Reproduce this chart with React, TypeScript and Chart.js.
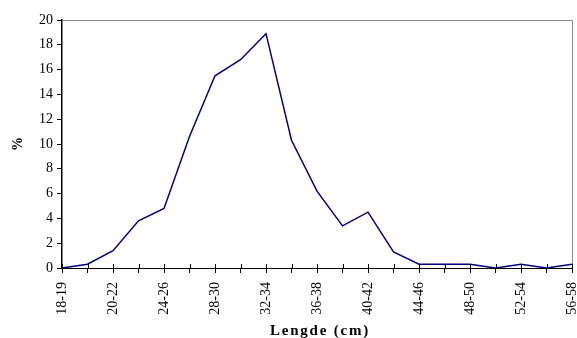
import { useEffect, useRef } from "react";
import { Chart, registerables } from "chart.js";

Chart.register(...registerables);

const categories = [
  "18-19", "19-20", "20-22", "22-24", "24-26", "26-28", "28-30", "30-32", "32-34", "34-36",
  "36-38", "38-40", "40-42", "42-44", "44-46", "46-48", "48-50", "50-52", "52-54", "54-56", "56-58",
];
const percentValues = [
  0, 0.3, 1.4, 3.8, 4.8, 10.6, 15.5, 16.8, 18.9, 10.3,
  6.2, 3.4, 4.5, 1.3, 0.3, 0.3, 0.3, 0, 0.3, 0, 0.3,
];
const yMin = 0;
const yMax = 20;
const yStep = 2;
const xTitle = "Lengde (cm)";
const yTitle = "%";

const FONT = "'Liberation Serif', 'Times New Roman', serif";

const framePlugin = {
  id: "frame",
  beforeDatasetsDraw(chart: any) {
    const { ctx, chartArea } = chart;
    ctx.save();
    ctx.strokeStyle = "#8c8c8c";
    ctx.lineWidth = 1;
    ctx.beginPath();
    ctx.moveTo(chartArea.left, chartArea.top + 0.5);
    ctx.lineTo(chartArea.right + 0.5, chartArea.top + 0.5);
    ctx.lineTo(chartArea.right + 0.5, chartArea.bottom);
    ctx.stroke();
    ctx.restore();
  },
  afterDraw(chart: any) {
    const { ctx, chartArea } = chart;
    const xs = chart.scales.x;
    ctx.save();
    ctx.strokeStyle = "#000";
    ctx.lineWidth = 1;
    ctx.beginPath();
    xs.ticks.forEach((_t: any, i: number) => {
      const px = Math.round(xs.getPixelForTick(i)) + 0.5;
      ctx.moveTo(px, chartArea.bottom - 4);
      ctx.lineTo(px, chartArea.bottom);
    });
    ctx.stroke();
    // x title with letter spacing
    ctx.fillStyle = "#000";
    ctx.font = `bold 15px ${FONT}`;
    (ctx as any).letterSpacing = "1.8px";
    ctx.textAlign = "center";
    ctx.textBaseline = "alphabetic";
    ctx.fillText(xTitle, (chartArea.left + chartArea.right) / 2 + 3, 335);
    ctx.restore();
  },
};

export default function App() {
  const ref = useRef<HTMLCanvasElement | null>(null);
  useEffect(() => {
    if (!ref.current) return;
    const chart = new Chart(ref.current, {
      type: "line",
      data: {
        labels: categories,
        datasets: [
          {
            data: percentValues,
            borderColor: "#000080",
            borderWidth: 1.5,
            pointRadius: 0,
            tension: 0,
            fill: false,
          },
        ],
      },
      options: {
        responsive: false,
        animation: false,
        layout: { padding: { top: 20, right: 5, left: 0, bottom: 0 } },
        plugins: { legend: { display: false }, tooltip: { enabled: false } },
        scales: {
          x: {
            type: "category",
            offset: false,
            grid: {
              display: true,
              drawOnChartArea: false,
              drawTicks: true,
              tickLength: 5,
              color: "#000",
            },
            border: { display: true, color: "#000", width: 1 },
            ticks: {
              autoSkip: false,
              maxRotation: 90,
              minRotation: 90,
              padding: 9,
              color: "#000",
              font: { family: FONT, size: 14 },
              callback: (_v: any, i: number) => (i % 2 === 0 ? categories[i] : ""),
            },
            afterFit: (s: any) => {
              s.height = 70;
              s.paddingRight = 0;
              s.paddingLeft = 0;
            },
          },
          y: {
            min: yMin,
            max: yMax,
            grid: {
              display: true,
              drawOnChartArea: false,
              drawTicks: true,
              tickLength: 5,
              color: "#000",
            },
            border: { display: true, color: "#000", width: 1.5 },
            ticks: {
              stepSize: yStep,
              padding: 4,
              color: "#000",
              font: { family: FONT, size: 14 },
            },
            title: {
              display: true,
              text: yTitle,
              color: "#000",
              font: { family: FONT, size: 14, weight: "bold" },
              padding: { top: 10, bottom: 0 },
            },
            afterFit: (s: any) => {
              s.width = 62;
            },
          },
        },
      },
      plugins: [framePlugin],
    });
    return () => chart.destroy();
  }, []);
  return (
    <div style={{ position: "fixed", left: 0, top: 0, width: 577, height: 338, background: "#fff" }}>
      <canvas ref={ref} width={577} height={338} style={{ display: "block" }} />
    </div>
  );
}
